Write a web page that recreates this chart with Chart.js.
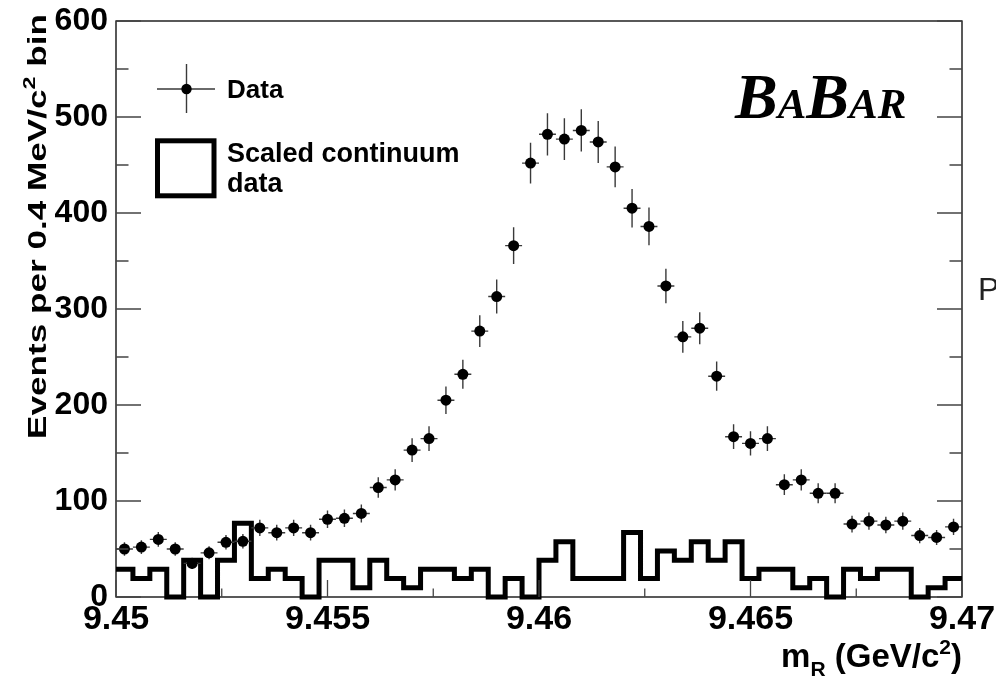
<!DOCTYPE html>
<html><head><meta charset="utf-8">
<script src="https://cdn.jsdelivr.net/npm/chart.js@4.4.1/dist/chart.umd.min.js"></script>
<style>html,body{margin:0;padding:0;background:#fff;} #wrap{width:996px;height:677px;position:relative;}</style>
</head><body><div id="wrap"><canvas id="c" width="996" height="677"></canvas></div>
<script>
// ---- data ----
const binCenters = [
 9.4502, 9.4506, 9.4510, 9.4514, 9.4518, 9.4522, 9.4526, 9.4530, 9.4534, 9.4538,
 9.4542, 9.4546, 9.4550, 9.4554, 9.4558, 9.4562, 9.4566, 9.4570, 9.4574, 9.4578,
 9.4582, 9.4586, 9.4590, 9.4594, 9.4598, 9.4602, 9.4606, 9.4610, 9.4614, 9.4618,
 9.4622, 9.4626, 9.4630, 9.4634, 9.4638, 9.4642, 9.4646, 9.4650, 9.4654, 9.4658,
 9.4662, 9.4666, 9.4670, 9.4674, 9.4678, 9.4682, 9.4686, 9.4690, 9.4694, 9.4698];
const halfBin = 0.0002;
const dataCounts = [
 50, 52, 60, 50, 35, 46, 57, 58, 72, 67,
 72, 67, 81, 82, 87, 114, 122, 153, 165, 205,
 232, 277, 313, 366, 452, 482, 477, 486, 474, 448,
 405, 386, 324, 271, 280, 230, 167, 160, 165, 117,
 122, 108, 108, 76, 79, 75, 79, 64, 62, 73];
const dataErrors = [
 7.1, 7.2, 7.7, 7.1, 5.9, 6.8, 7.5, 7.6, 8.5, 8.2,
 8.5, 8.2, 9.0, 9.1, 9.3, 10.7, 11.0, 12.4, 12.8, 14.3,
 15.2, 16.6, 17.7, 19.1, 21.3, 22.0, 21.8, 22.0, 21.8, 21.2,
 20.1, 19.6, 18.0, 16.5, 16.7, 15.2, 12.9, 12.6, 12.8, 10.8,
 11.0, 10.4, 10.4, 8.7, 8.9, 8.7, 8.9, 8.0, 7.9, 8.5];
const continuumCounts = [
 28.8, 19.2, 28.8, 0, 38.4, 0, 38.4, 76.8, 19.2, 28.8,
 19.2, 0, 38.4, 38.4, 9.6, 38.4, 19.2, 9.6, 28.8, 28.8,
 19.2, 28.8, 0, 19.2, 0, 38.4, 57.6, 19.2, 19.2, 19.2,
 67.2, 19.2, 48.0, 38.4, 57.6, 38.4, 57.6, 19.2, 28.8, 28.8,
 9.6, 19.2, 0, 28.8, 19.2, 28.8, 28.8, 0, 9.6, 19.2];
const xTickValues = [9.45, 9.455, 9.46, 9.465, 9.47];
const xTickLabels = ['9.45', '9.455', '9.46', '9.465', '9.47'];
const xMinorTicks = [9.4525, 9.4575, 9.4625, 9.4675];
const yTickValues = [0, 100, 200, 300, 400, 500, 600];
const yTickLabels = ['0', '100', '200', '300', '400', '500', '600'];
const yMinorTicks = [50, 150, 250, 350, 450, 550];
const legendLabels = ['Data', 'Scaled continuum', 'data'];

// ---- derived tables for the library ----
const dataPoints = binCenters.map((x, i) => ({x: x, y: dataCounts[i]}));
const histPoints = binCenters.map((c, i) => ({x: c - halfBin, y: continuumCounts[i]}));
histPoints.push({x: binCenters[binCenters.length - 1] + halfBin, y: continuumCounts[continuumCounts.length - 1]});

const SANS = '"Liberation Sans", Arial, Helvetica, sans-serif';
const SERIF = '"Liberation Serif", "Times New Roman", serif';

const rootPlugin = {
  id: 'rootStyle',
  beforeDatasetDraw(chart, args) {
    if (args.index !== 0) return;
    const ctx = chart.ctx, xs = chart.scales.x, ys = chart.scales.y;
    ctx.save();
    ctx.strokeStyle = '#3a3a3a';
    ctx.lineWidth = 1.4;
    binCenters.forEach((c, i) => {
      const v = dataCounts[i], e = dataErrors[i];
      const px = xs.getPixelForValue(c), py = ys.getPixelForValue(v);
      ctx.beginPath();
      ctx.moveTo(xs.getPixelForValue(c - halfBin), py);
      ctx.lineTo(xs.getPixelForValue(c + halfBin), py);
      ctx.moveTo(px, ys.getPixelForValue(v - e));
      ctx.lineTo(px, ys.getPixelForValue(v + e));
      ctx.stroke();
    });
    ctx.restore();
  },
  afterDraw(chart) {
    const ctx = chart.ctx, xs = chart.scales.x, ys = chart.scales.y, a = chart.chartArea;
    ctx.save();
    // frame
    ctx.strokeStyle = '#000';
    ctx.lineWidth = 1.3;
    ctx.strokeRect(a.left, a.top, a.right - a.left, a.bottom - a.top);
    // ticks
    ctx.strokeStyle = '#444';
    ctx.lineWidth = 1.3;
    ctx.beginPath();
    yTickValues.forEach(v => {
      const y = ys.getPixelForValue(v);
      ctx.moveTo(a.left, y); ctx.lineTo(a.left + 25, y);
      ctx.moveTo(a.right, y); ctx.lineTo(a.right - 25, y);
    });
    yMinorTicks.forEach(v => {
      const y = ys.getPixelForValue(v);
      ctx.moveTo(a.left, y); ctx.lineTo(a.left + 12.5, y);
      ctx.moveTo(a.right, y); ctx.lineTo(a.right - 12.5, y);
    });
    xTickValues.forEach(v => {
      const x = xs.getPixelForValue(v);
      ctx.moveTo(x, a.bottom); ctx.lineTo(x, a.bottom - 17);
    });
    xMinorTicks.forEach(v => {
      const x = xs.getPixelForValue(v);
      ctx.moveTo(x, a.bottom); ctx.lineTo(x, a.bottom - 8.5);
    });
    ctx.stroke();

    // legend: Data marker
    ctx.strokeStyle = '#3a3a3a';
    ctx.lineWidth = 1.4;
    ctx.beginPath();
    ctx.moveTo(157, 89); ctx.lineTo(215, 89);
    ctx.moveTo(186.5, 64); ctx.lineTo(186.5, 113);
    ctx.stroke();
    ctx.fillStyle = '#000';
    ctx.beginPath(); ctx.arc(186.5, 89, 5.2, 0, Math.PI * 2); ctx.fill();
    ctx.font = 'bold 26px ' + SANS;
    ctx.textBaseline = 'alphabetic';
    ctx.textAlign = 'left';
    ctx.fillText(legendLabels[0], 227, 98);
    // legend: continuum box
    ctx.strokeStyle = '#000';
    ctx.lineWidth = 5;
    ctx.lineJoin = 'miter';
    ctx.strokeRect(157.5, 140.8, 56.5, 55);
    ctx.font = 'bold 27px ' + SANS;
    ctx.fillText(legendLabels[1], 227, 162);
    ctx.fillText(legendLabels[2], 227, 192);

    // BABAR logo
    let bx = 735;
    const parts = [['B', 64], ['A', 43], ['B', 64], ['A', 43], ['R', 43]];
    parts.forEach(([t, s]) => {
      ctx.font = 'italic bold ' + s + 'px ' + SERIF;
      ctx.fillText(t, bx, 118);
      bx += ctx.measureText(t).width;
    });

    // x axis title: m_R (GeV/c^2), right aligned
    const big = 'bold 33px ' + SANS, small = 'bold 21px ' + SANS;
    const segs = [['m', big, 0], ['R', small, 9], [' (GeV/c', big, 0], ['2', small, -13], [')', big, 0]];
    let total = 0;
    segs.forEach(([t, f]) => { ctx.font = f; total += ctx.measureText(t).width; });
    let tx = a.right - total;
    segs.forEach(([t, f, dy]) => { ctx.font = f; ctx.fillText(t, tx, 667 + dy); tx += ctx.measureText(t).width; });

    // y axis title (rotated, stretched along text direction)
    ctx.save();
    ctx.translate(46, 439);
    ctx.rotate(-Math.PI / 2);
    const tBig = 'bold 25.5px ' + SANS, tSmall = 'bold 17px ' + SANS;
    const ysegs = [['Events per 0.4 MeV/c', tBig, 0], ['2', tSmall, -11.5], [' bin', tBig, 0]];
    let tw = 0;
    ysegs.forEach(([t, f]) => { ctx.font = f; tw += ctx.measureText(t).width; });
    ctx.scale(425 / tw, 1);
    let yx = 0;
    ysegs.forEach(([t, f, dy]) => { ctx.font = f; ctx.fillText(t, yx, dy); yx += ctx.measureText(t).width; });
    ctx.restore();

    // stray letter at right edge
    ctx.fillStyle = '#222';
    ctx.font = '32px ' + SANS;
    ctx.fillText('P', 978, 300);
    ctx.restore();
  }
};

new Chart(document.getElementById('c'), {
  type: 'scatter',
  data: {
    datasets: [
      {
        label: 'Data',
        data: dataPoints,
        showLine: false,
        pointStyle: 'circle',
        pointRadius: 5.5,
        pointHoverRadius: 5.5,
        pointBackgroundColor: '#000',
        pointBorderWidth: 0,
        borderColor: '#000'
      },
      {
        label: 'Scaled continuum data',
        type: 'line',
        data: histPoints,
        stepped: true,
        borderColor: '#000',
        borderWidth: 5,
        borderJoinStyle: 'miter',
        borderCapStyle: 'butt',
        pointRadius: 0,
        fill: false,
        tension: 0,
        clip: false
      }
    ]
  },
  options: {
    responsive: false,
    devicePixelRatio: 1,
    animation: false,
    events: [],
    layout: {padding: {left: 0, right: 34, top: 21, bottom: 0}},
    plugins: {legend: {display: false}, tooltip: {enabled: false}},
    scales: {
      x: {
        type: 'linear', min: 9.45, max: 9.47,
        grid: {display: false, drawTicks: false},
        border: {display: false},
        afterBuildTicks: s => { s.ticks = xTickValues.map(v => ({value: v})); },
        afterFit: s => { s.height = 80; s.paddingLeft = 0; s.paddingRight = 0; },
        ticks: {
          autoSkip: false, maxRotation: 0, minRotation: 0, padding: 2,
          color: '#000',
          font: {family: SANS, size: 34, weight: 'bold'},
          callback: (v, i) => xTickLabels[i]
        }
      },
      y: {
        type: 'linear', min: 0, max: 600,
        grid: {display: false, drawTicks: false},
        border: {display: false},
        afterBuildTicks: s => { s.ticks = yTickValues.map(v => ({value: v})); },
        afterFit: s => { s.width = 116; s.paddingTop = 0; s.paddingBottom = 0; },
        ticks: {
          autoSkip: false, padding: 8,
          color: '#000',
          font: {family: SANS, size: 32, weight: 'bold'},
          callback: (v, i) => yTickLabels[i]
        }
      }
    }
  },
  plugins: [rootPlugin]
});
</script></body></html>
